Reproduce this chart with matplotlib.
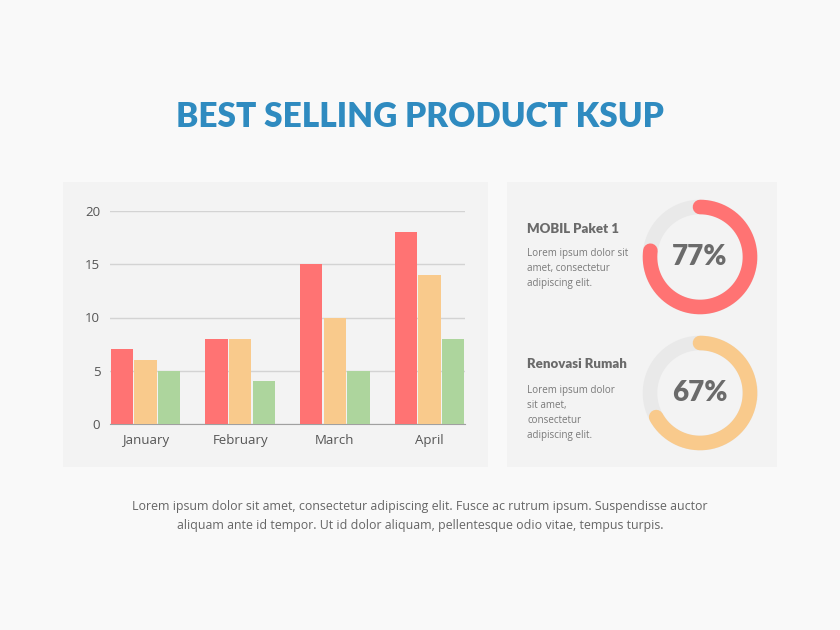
import numpy as np
import matplotlib.pyplot as plt
from matplotlib.patches import Rectangle

months = ['January', 'February', 'March', 'April']
series_a = [7, 8, 15, 18]
series_b = [6, 8, 10, 14]
series_c = [5, 4, 5, 8]

donut_titles = ['MOBIL Paket 1', 'Renovasi Rumah']
donut_values = [77, 67]
donut_texts = ['Lorem ipsum dolor sit\namet, consectetur\nadipiscing elit.',
               'Lorem ipsum dolor\nsit amet,\nconsectetur\nadipiscing elit.']

red = '#ff7373'
orange = '#f9ca8c'
green = '#add59d'
donut_colors = [red, orange]

W, H = 840, 630
fig = plt.figure(figsize=(8.4, 6.3), dpi=100)
fig.patch.set_facecolor('#f9f9f9')


def fx(px):
    return px / W


def fy(py):
    return 1 - py / H


# panels
for x0, x1 in [(63, 488), (507, 777)]:
    fig.patches.append(Rectangle((fx(x0), fy(467)), fx(x1 - x0), (467 - 182) / H,
                                 transform=fig.transFigure, facecolor='#f3f3f3',
                                 edgecolor='none', zorder=-5))

fig.text(0.5, fy(117), 'BEST SELLING PRODUCT KSUP', ha='center', va='center',
         fontsize=24, fontweight='heavy', family='Lato', color='#2f8bc0')

# bar chart
ax = fig.add_axes([fx(110), fy(424), fx(465 - 110), (424 - 211) / H])
ax.set_facecolor('none')
x = np.arange(len(months))
w = 0.235
ax.bar(x - 0.25, series_a, w, color=red, zorder=3)
ax.bar(x, series_b, w, color=orange, zorder=3)
ax.bar(x + 0.25, series_c, w, color=green, zorder=3)
ax.set_xlim(-0.375, 3.375)
ax.set_ylim(0, 20)
ax.set_yticks([0, 5, 10, 15, 20])
ax.set_xticks(x)
ax.set_xticklabels(months)
ax.yaxis.grid(True, color='#d3d3d3', linewidth=1)
ax.set_axisbelow(True)
for s in ['top', 'right', 'left']:
    ax.spines[s].set_visible(False)
ax.spines['bottom'].set_color('#a0a0a0')
ax.tick_params(length=0, labelsize=9.5, labelcolor='#555555', pad=7)
for lab in ax.get_xticklabels() + ax.get_yticklabels():
    lab.set_family('Open Sans')

# donuts
centers = [257, 393]
for i in range(2):
    cy = centers[i]
    dax = fig.add_axes([fx(640), fy(cy + 60), fx(120), 120 / H])
    dax.set_xlim(-1.2, 1.2)
    dax.set_ylim(-1.2, 1.2)
    dax.set_aspect('equal')
    dax.axis('off')
    t = np.linspace(0, 2 * np.pi, 300)
    dax.plot(np.cos(t), np.sin(t), color='#e9e9e9', linewidth=10.5)
    end = np.pi / 2 - donut_values[i] / 100 * 2 * np.pi
    t2 = np.linspace(np.pi / 2, end, 300)
    dax.plot(np.cos(t2), np.sin(t2), color=donut_colors[i], linewidth=10.5,
             solid_capstyle='round')
    dax.text(0, 0, f'{donut_values[i]}%', ha='center', va='center', fontsize=20,
             fontweight='heavy', family='Lato', color='#6b6b6b')

fig.text(fx(527), fy(229), donut_titles[0], ha='left', va='center', fontsize=9.5,
         fontweight='heavy', family='Lato', color='#6a6a6a')
fig.text(fx(527), fy(248), donut_texts[0], ha='left', va='top', fontsize=7.1,
         family='Open Sans', color='#7a7a7a', linespacing=1.5)
fig.text(fx(527), fy(364), donut_titles[1], ha='left', va='center', fontsize=9.5,
         fontweight='heavy', family='Lato', color='#6a6a6a')
fig.text(fx(527), fy(385), donut_texts[1], ha='left', va='top', fontsize=7.1,
         family='Open Sans', color='#7a7a7a', linespacing=1.5)

fig.text(0.5, fy(516), 'Lorem ipsum dolor sit amet, consectetur adipiscing elit. Fusce ac rutrum ipsum. Suspendisse auctor\n'
         'aliquam ante id tempor. Ut id dolor aliquam, pellentesque odio vitae, tempus turpis.',
         ha='center', va='center', fontsize=8.9, family='Open Sans', color='#666666',
         linespacing=1.55)

fig.savefig('out.png', dpi=100, facecolor=fig.get_facecolor())
